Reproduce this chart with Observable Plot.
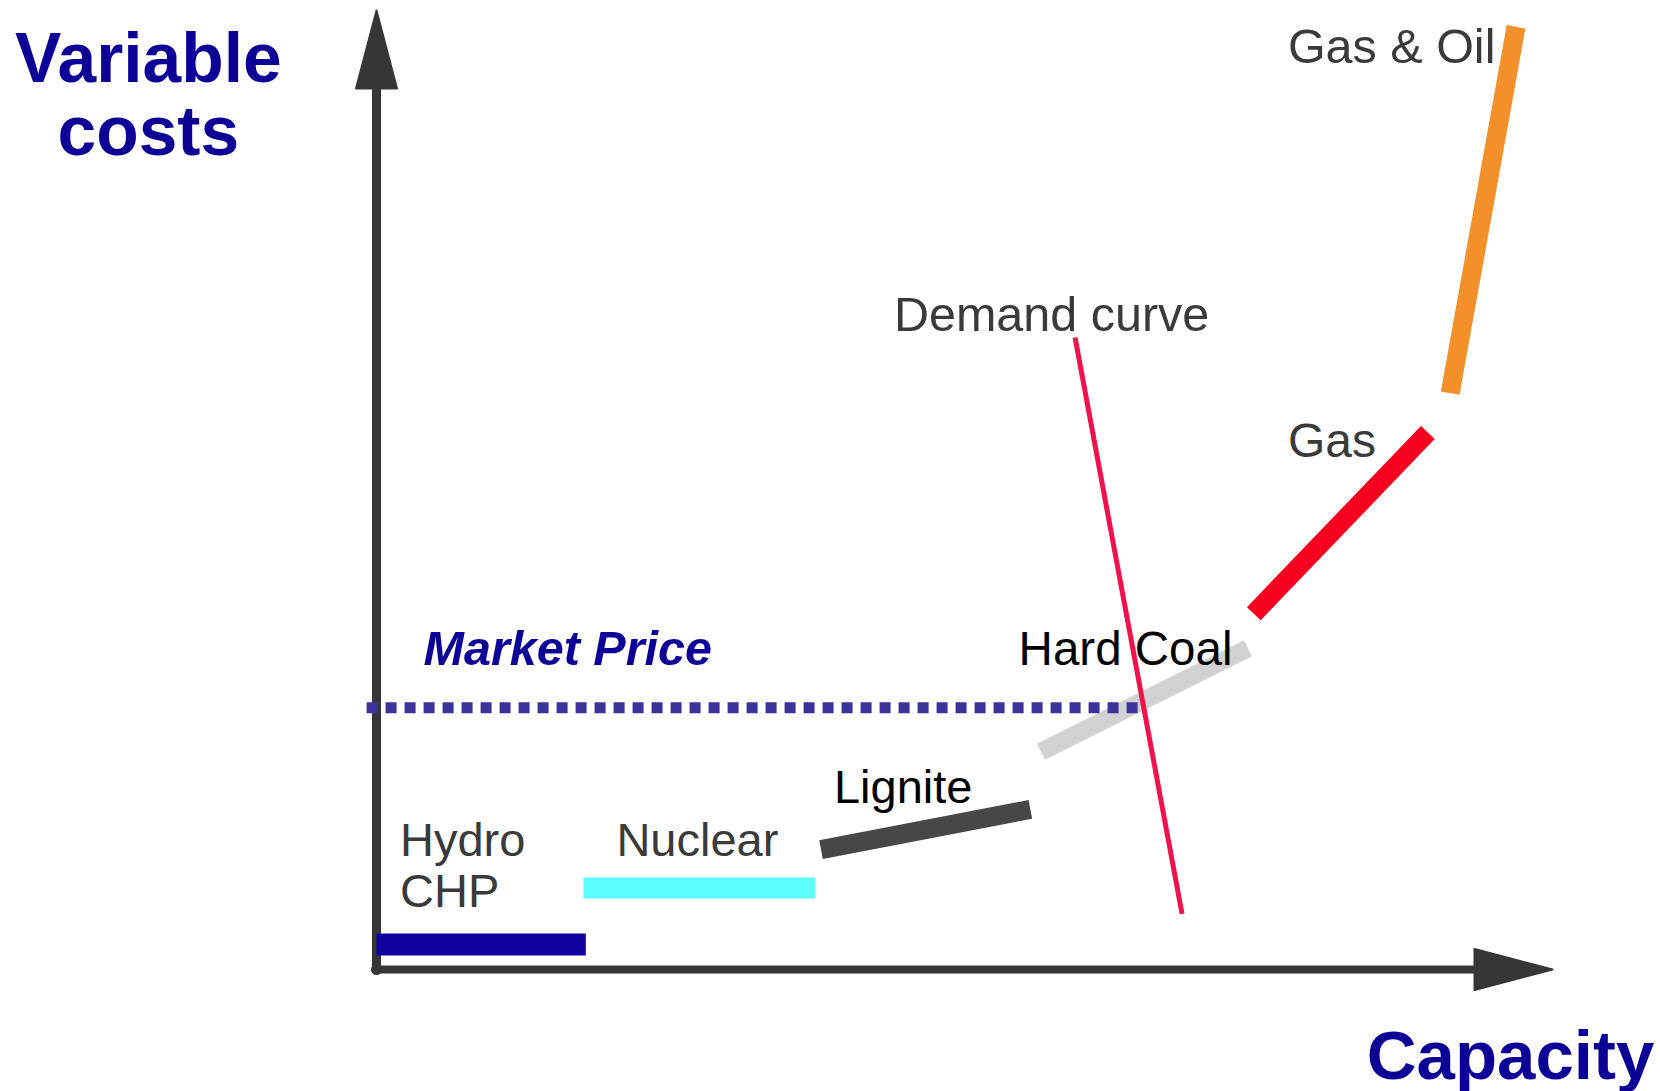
<!DOCTYPE html>
<html>
<head>
<meta charset="utf-8">
<script src="https://cdn.jsdelivr.net/npm/d3@7"></script>
<script src="https://cdn.jsdelivr.net/npm/@observablehq/plot@0.6"></script>
<style>
  html, body { margin: 0; padding: 0; background: #fff; }
  #chart svg { display: block; }
</style>
</head>
<body>
<div id="chart"></div>
<script>
// ---- Data (capacity and variable cost in arbitrary units, 0–100) ----
const sources    = ["Hydro CHP", "Nuclear", "Lignite", "Hard Coal", "Gas", "Gas & Oil"];
const capStart   = [0.0, 17.6, 37.8, 56.5, 74.6, 91.3];
const capEnd     = [17.8, 37.3, 55.6, 74.1, 89.4, 96.9];
const costStart  = [2.6, 8.5, 12.5, 22.7, 37.1, 60.1];
const costEnd    = [2.6, 8.5, 16.7, 33.5, 56.0, 98.3];

const demandCap  = [59.4, 68.5];
const demandCost = [65.9, 5.8];

const marketPrice = 27.3;
const marketFrom  = -0.8;
const marketTo    = 65.2;

const labelText = ["Hydro\nCHP", "Nuclear", "Lignite", "Hard Coal", "Gas", "Gas & Oil", "Demand curve"];
const labelCap  = [2.0, 20.4, 38.9, 54.6, 77.5, 77.5, 44.0];
const labelCost = [6.5, 11.8, 17.4, 31.8, 53.4, 94.5, 66.6];

// ---- Styles ----
const sourceColor = {
  "Hydro CHP": "#1000a0",
  "Nuclear": "#5cffff",
  "Lignite": "#474747",
  "Hard Coal": "#d2d2d2",
  "Gas": "#f7001f",
  "Gas & Oil": "#f4902a"
};
const sourceWidth = {
  "Hydro CHP": 22, "Nuclear": 21, "Lignite": 19,
  "Hard Coal": 18, "Gas": 19, "Gas & Oil": 19
};
const labelColor = {
  "Hydro\nCHP": "#3a3a3a", "Nuclear": "#3a3a3a", "Lignite": "#000",
  "Hard Coal": "#000", "Gas": "#3a3a3a", "Gas & Oil": "#3a3a3a", "Demand curve": "#3a3a3a"
};
const labelSize = {
  "Hydro\nCHP": 47, "Nuclear": 47, "Lignite": 47,
  "Hard Coal": 47.5, "Gas": 48, "Gas & Oil": 48.5, "Demand curve": 48.5
};

const segments = sources.map((s, i) => ({
  source: s, x1: capStart[i], x2: capEnd[i], y1: costStart[i], y2: costEnd[i]
}));
const labels = labelText.map((t, i) => ({text: t, x: labelCap[i], y: labelCost[i]}));

// elongated filled arrowhead, tip at the anchor point, pointing up
const arrowHead = {
  draw(context) {
    context.moveTo(0, 0);
    context.lineTo(20.5, 78);
    context.lineTo(-20.5, 78);
    context.closePath();
  }
};

const axisColor = "#363636";
const font = "'Liberation Sans', Arial, Helvetica, sans-serif";

const chart = Plot.plot({
  width: 1660,
  height: 1091,
  marginLeft: 376,
  marginRight: 108,
  marginTop: 10,
  marginBottom: 122,
  x: {domain: [0, 100], axis: null},
  y: {domain: [0, 100], axis: null},
  color: {type: "identity"},
  style: {fontFamily: font, background: "#fff", overflow: "visible"},
  marks: [
    // axes
    Plot.link([{x1: 0, y1: 0, x2: 0, y2: 93}], {x1: "x1", y1: "y1", x2: "x2", y2: "y2",
      stroke: axisColor, strokeWidth: 9, strokeLinecap: "butt"}),
    Plot.link([{x1: 0, y1: 0, x2: 94, y2: 0}], {x1: "x1", y1: "y1", x2: "x2", y2: "y2",
      stroke: axisColor, strokeWidth: 8, strokeLinecap: "butt"}),
    Plot.dot([{x: 0, y: 100, r: 0}, {x: 100, y: 0, r: 90}], {x: "x", y: "y", rotate: "r",
      symbol: arrowHead, r: 10, fill: axisColor, stroke: axisColor, strokeWidth: 2, strokeLinejoin: "round"}),
    Plot.dot([{x: 0, y: 0}], {x: "x", y: "y", r: 5.5, fill: axisColor}),
    // supply segments
    Plot.link(segments, {x1: "x1", y1: "y1", x2: "x2", y2: "y2",
      stroke: d => sourceColor[d.source], strokeWidth: d => sourceWidth[d.source], strokeLinecap: "butt"}),
    // market price
    Plot.ruleY([marketPrice], {x1: marketFrom, x2: marketTo, stroke: "#3b3399",
      strokeWidth: 11, strokeDasharray: "11,8", strokeLinecap: "butt"}),
    // demand curve
    Plot.line(demandCap.map((c, i) => ({x: c, y: demandCost[i]})), {x: "x", y: "y",
      stroke: "#f0124c", strokeWidth: 5, strokeLinecap: "butt"}),
    // labels
    Plot.text(labels, {x: "x", y: "y", text: "text", textAnchor: "start", lineAnchor: "bottom",
      lineHeight: 1.08, fontSize: d => labelSize[d.text], fill: d => labelColor[d.text], fontFamily: font}),
    Plot.text([{x: 4.0, y: 31.7}], {x: "x", y: "y", text: () => "Market Price", textAnchor: "start",
      lineAnchor: "bottom", fontSize: 48.5, fontWeight: "bold", fontStyle: "italic", fill: "#0c0096", fontFamily: font}),
    Plot.text([{x: -19.4, y: 84.9}], {x: "x", y: "y", text: () => "Variable\ncosts", textAnchor: "middle",
      lineAnchor: "bottom", lineHeight: 1.05, fontSize: 69.5, fontWeight: "bold", fill: "#0c0096", fontFamily: font}),
    Plot.text([{x: 84.2, y: -11.4}], {x: "x", y: "y", text: () => "Capacity", textAnchor: "start",
      lineAnchor: "bottom", fontSize: 69, fontWeight: "bold", fill: "#0c0096", fontFamily: font})
  ]
});

document.getElementById("chart").appendChild(chart);
</script>
</body>
</html>
